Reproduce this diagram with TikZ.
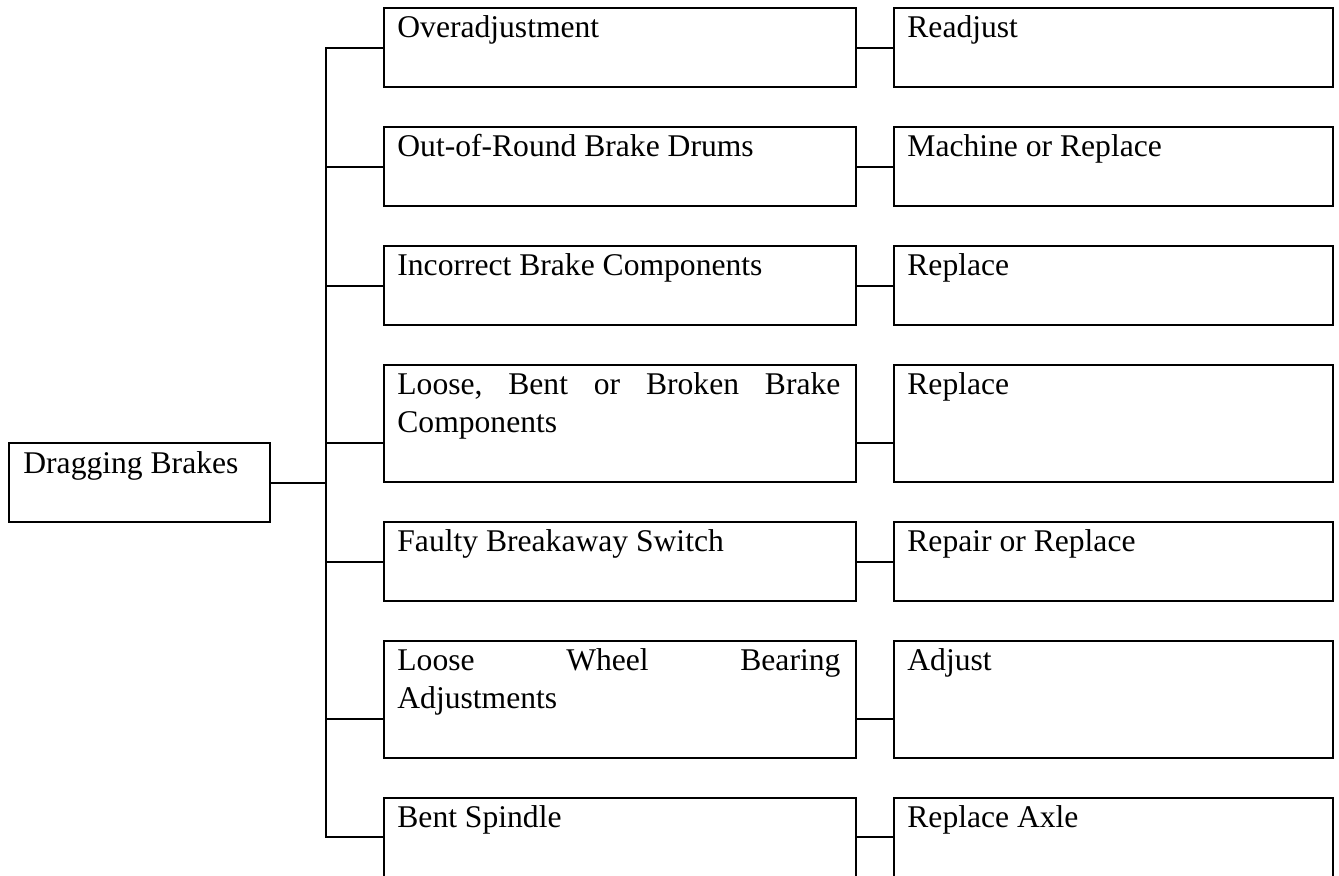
\documentclass[tikz,border=0pt]{standalone}
\usepackage{fontspec}
\setmainfont{Liberation Serif}
\usetikzlibrary{calc}
\begin{document}
\begin{tikzpicture}[x=0.5pt,y=-0.5pt,
  box/.style={draw, line width=1pt, anchor=north west, inner sep=0pt, minimum height=39.5pt},
  rootbox/.style={box, minimum width=130.5pt},
  midbox/.style={box, minimum width=236pt},
  resbox/.style={box, minimum width=219.5pt},
  tall/.style={minimum height=58.5pt},
  txt/.style={anchor=base west, inner sep=0pt, font=\fontsize{15.8}{19}\selectfont},
  wide/.style={text width=221.5pt, align=left},
  link/.style={line width=1pt}]
\useasboundingbox (0,0) rectangle (1339,875);
\clip (0,0) rectangle (1339,875);

% boxes
\node[rootbox] (root) at (8,442) {};
\node[midbox] (m1) at (383,7) {};
\node[midbox] (m2) at (383,126) {};
\node[midbox] (m3) at (383,245) {};
\node[midbox,tall] (m4) at (383,364) {};
\node[midbox] (m5) at (383,521) {};
\node[midbox,tall] (m6) at (383,640) {};
\node[midbox] (m7) at (383,797) {};
\node[resbox] (r1) at (893,7) {};
\node[resbox] (r2) at (893,126) {};
\node[resbox] (r3) at (893,245) {};
\node[resbox,tall] (r4) at (893,364) {};
\node[resbox] (r5) at (893,521) {};
\node[resbox,tall] (r6) at (893,640) {};
\node[resbox] (r7) at (893,797) {};

% texts
\node[txt] (troot) at ($(root.north west)+(15,31)$) {Dragging Brakes};
\node[txt] (tm1) at ($(m1.north west)+(14,30)$) {Overadjustment};
\node[txt] (tm2) at ($(m2.north west)+(14,30)$) {Out-of-Round Brake Drums};
\node[txt] (tm3) at ($(m3.north west)+(14,30)$) {Incorrect Brake Components};
\node[txt,wide] (tm4) at ($(m4.north west)+(14,30)$) {Loose,\hfill Bent\hfill or\hfill Broken\hfill Brake\\Components};
\node[txt] (tm5) at ($(m5.north west)+(14,30)$) {Faulty Breakaway Switch};
\node[txt,wide] (tm6) at ($(m6.north west)+(14,30)$) {Loose\hfill Wheel\hfill Bearing\\Adjustments};
\node[txt] (tm7) at ($(m7.north west)+(14,30)$) {Bent Spindle};
\node[txt] (tr1) at ($(r1.north west)+(14,30)$) {Readjust};
\node[txt] (tr2) at ($(r2.north west)+(14,30)$) {Machine or Replace};
\node[txt] (tr3) at ($(r3.north west)+(14,30)$) {Replace};
\node[txt] (tr4) at ($(r4.north west)+(14,30)$) {Replace};
\node[txt] (tr5) at ($(r5.north west)+(14,30)$) {Repair or Replace};
\node[txt] (tr6) at ($(r6.north west)+(14,30)$) {Adjust};
\node[txt] (tr7) at ($(r7.north west)+(14,30)$) {Replace Axle};

% branch points on the left side of the cause boxes
\coordinate (trunk) at (326,0);
\coordinate (p1) at (m1.west);
\coordinate (p2) at (m2.west);
\coordinate (p3) at (m3.west);
\coordinate (p4) at ($(m4.north west)!0.667!(m4.south west)$);
\coordinate (p5) at (m5.west);
\coordinate (p6) at ($(m6.north west)!0.667!(m6.south west)$);
\coordinate (p7) at ($(m7.north west)!0.5!(m7.north west |- 0,876)$);
\coordinate (j1) at (p1 -| trunk);
\coordinate (j7) at (p7 -| trunk);

% connectors
\draw[link] (root.east) -- (root.east -| trunk);
\draw[link] (p1) -- (j1) -- (j7) -- (p7);
\foreach \i in {2,...,6} {
  \draw[link] (p\i -| trunk) -- (p\i);
}
\foreach \i in {1,...,7} {
  \draw[link] (p\i -| m\i.east) -- (p\i -| r\i.west);
}
\end{tikzpicture}
\end{document}
